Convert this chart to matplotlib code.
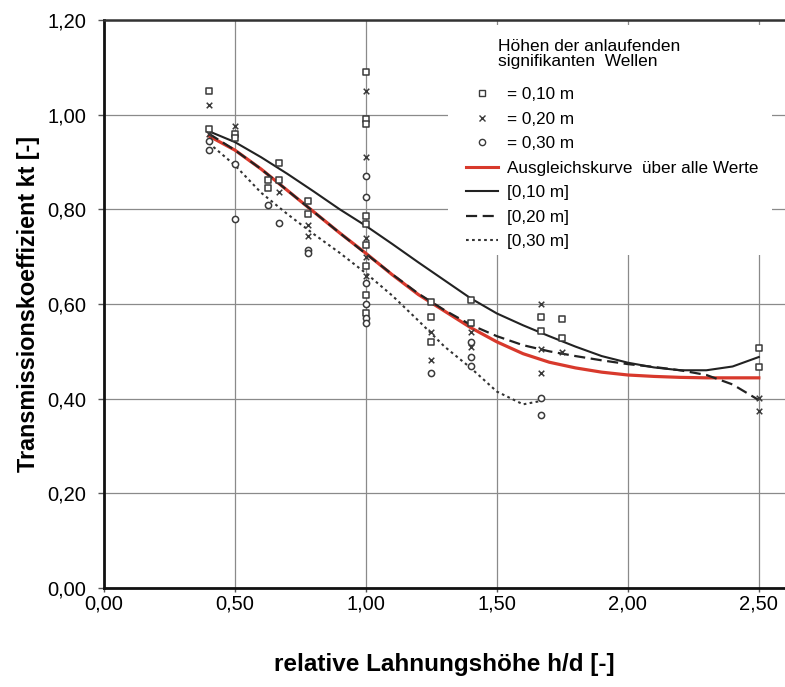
import matplotlib
matplotlib.use("Agg")
import matplotlib.pyplot as plt
from matplotlib.lines import Line2D
from matplotlib.patches import Rectangle

plt.rcParams['font.family'] = ['Liberation Sans', 'DejaVu Sans']

# measured points, wave height 0.10 m (squares)
x_10 = [0.4, 0.4, 0.5, 0.5, 0.625, 0.625, 0.667, 0.667, 0.78, 0.78,
        1.0, 1.0, 1.0, 1.0, 1.0, 1.0, 1.0, 1.0, 1.0,
        1.25, 1.25, 1.25, 1.4, 1.4, 1.667, 1.667, 1.75, 1.75, 2.5, 2.5]
y_10 = [1.05, 0.97, 0.96, 0.95, 0.862, 0.845, 0.898, 0.862, 0.818, 0.79,
        1.09, 0.99, 0.98, 0.785, 0.77, 0.725, 0.68, 0.62, 0.58,
        0.604, 0.573, 0.52, 0.608, 0.56, 0.572, 0.543, 0.568, 0.528, 0.507, 0.467]
# wave height 0.20 m (crosses)
x_20 = [0.4, 0.4, 0.5, 0.667, 0.78, 0.78, 1.0, 1.0, 1.0, 1.0, 1.0,
        1.25, 1.25, 1.4, 1.4, 1.667, 1.667, 1.667, 1.75, 2.5, 2.5]
y_20 = [1.02, 0.96, 0.975, 0.837, 0.767, 0.744, 1.05, 0.91, 0.74, 0.70, 0.66,
        0.541, 0.482, 0.54, 0.51, 0.60, 0.505, 0.454, 0.499, 0.401, 0.374]
# wave height 0.30 m (circles)
x_30 = [0.4, 0.4, 0.5, 0.5, 0.625, 0.667, 0.78, 0.78,
        1.0, 1.0, 1.0, 1.0, 1.0, 1.0, 1.25, 1.4, 1.4, 1.4, 1.667, 1.667]
y_30 = [0.945, 0.925, 0.895, 0.78, 0.81, 0.771, 0.714, 0.708,
        0.87, 0.826, 0.644, 0.60, 0.57, 0.56, 0.454, 0.52, 0.488, 0.47, 0.401, 0.366]

# fitted curves
cx_all = [0.4, 0.5, 0.6, 0.7, 0.8, 0.9, 1.0, 1.1, 1.2, 1.3, 1.4, 1.5, 1.6, 1.7,
          1.8, 1.9, 2.0, 2.1, 2.2, 2.3, 2.4, 2.5]
cy_all = [0.955, 0.925, 0.885, 0.84, 0.795, 0.75, 0.707, 0.662, 0.62, 0.585, 0.55,
          0.52, 0.495, 0.477, 0.465, 0.456, 0.45, 0.447, 0.445, 0.444, 0.444, 0.444]
cy_10 = [0.965, 0.942, 0.91, 0.875, 0.838, 0.80, 0.765, 0.727, 0.688, 0.65, 0.612,
         0.58, 0.555, 0.532, 0.51, 0.49, 0.476, 0.466, 0.46, 0.46, 0.468, 0.488]
cy_20 = [0.96, 0.925, 0.885, 0.84, 0.795, 0.75, 0.706, 0.663, 0.622, 0.587, 0.556,
         0.532, 0.513, 0.50, 0.49, 0.481, 0.473, 0.467, 0.46, 0.45, 0.43, 0.397]
cx_30 = [0.4, 0.5, 0.6, 0.7, 0.8, 0.9, 1.0, 1.1, 1.2, 1.3, 1.4, 1.5, 1.6, 1.667]
cy_30 = [0.94, 0.893, 0.835, 0.79, 0.748, 0.708, 0.665, 0.618, 0.565, 0.51, 0.465,
         0.415, 0.388, 0.395]

xticks = [0.0, 0.5, 1.0, 1.5, 2.0, 2.5]
xticklabels = ['0,00', '0,50', '1,00', '1,50', '2,00', '2,50']
yticks = [0.0, 0.2, 0.4, 0.6, 0.8, 1.0, 1.2]
yticklabels = ['0,00', '0,20', '0,40', '0,60', '0,80', '1,00', '1,20']

legend_title = 'Höhen der anlaufenden\nsignifikanten  Wellen'
legend_labels = ['= 0,10 m', '= 0,20 m', '= 0,30 m', 'Ausgleichskurve  über alle Werte',
                 '[0,10 m]', '[0,20 m]', '[0,30 m]']

fig = plt.figure(figsize=(7.85, 6.87), dpi=100)
ax = fig.add_axes([0.1325, 0.1441, 0.8675, 0.8268])

mc = '#3a3a3a'
red = '#d8392c'
ax.plot(cx_all, cy_all, color=red, lw=2.3, zorder=3)
ax.plot(cx_all, cy_10, color='#222222', lw=1.5, ls='-', zorder=4)
ax.plot(cx_all, cy_20, color='#222222', lw=1.6, ls=(0, (5, 2.5)), zorder=4)
ax.plot(cx_30, cy_30, color='#333333', lw=1.5, ls=(0, (1.3, 1.6)), zorder=4)

ax.scatter(x_10, y_10, marker='s', s=20, facecolors='white', edgecolors=mc,
           linewidths=1.1, zorder=5)
ax.scatter(x_20, y_20, marker='x', s=16, color=mc, linewidths=1.1, zorder=5)
ax.scatter(x_30, y_30, marker='o', s=20, facecolors='white', edgecolors=mc,
           linewidths=1.1, zorder=5)

ax.set_xlim(0, 2.6)
ax.set_ylim(0, 1.2)
ax.set_xticks(xticks)
ax.set_xticklabels(xticklabels, fontsize=14.5)
ax.set_yticks(yticks)
ax.set_yticklabels(yticklabels, fontsize=14.5)
ax.grid(True, color='#8a8a8a', lw=0.9)
ax.set_axisbelow(True)
for s in ['left', 'bottom']:
    ax.spines[s].set_linewidth(2.0)
    ax.spines[s].set_color('#111111')
ax.spines['top'].set_linewidth(1.8)
ax.spines['top'].set_color('#333333')
ax.spines['right'].set_visible(False)
ax.tick_params(axis='y', length=4, width=1, color='#555555', pad=9)
ax.tick_params(axis='x', length=3, width=1, color='#555555', pad=2)

ax.set_xlabel('relative Lahnungshöhe h/d [-]', fontsize=17.5, fontweight='bold', labelpad=28)
ax.set_ylabel('Transmissionskoeffizient kt [-]', fontsize=16.8, fontweight='bold', labelpad=5)

# white legend background
ax.add_patch(Rectangle((0.505, 0.586), 0.476, 0.405, transform=ax.transAxes,
                       facecolor='white', edgecolor='none', zorder=1))
ax.text(0.5786, 0.940, legend_title, transform=ax.transAxes, fontsize=12.5,
        ha='left', va='center', linespacing=1.05, zorder=6)

handles = [
    Line2D([], [], ls='none', marker='s', ms=4.5, mfc='white', mec=mc, mew=1.0),
    Line2D([], [], ls='none', marker='x', ms=4, color=mc, mew=1.0),
    Line2D([], [], ls='none', marker='o', ms=4.5, mfc='white', mec=mc, mew=1.0),
    Line2D([], [], color=red, lw=2.2),
    Line2D([], [], color='#222222', lw=1.5),
    Line2D([], [], color='#222222', lw=1.6, ls=(0, (5, 2.5))),
    Line2D([], [], color='#333333', lw=1.5, ls=(0, (1.3, 1.6))),
]
leg = ax.legend(handles, legend_labels, loc='upper left',
                bbox_to_anchor=(0.5316, 0.882), frameon=False,
                fontsize=12.3, handlelength=1.87, handletextpad=0.5,
                labelspacing=0.56, borderpad=0.0, borderaxespad=0.0)
leg.set_zorder(6)

fig.savefig('out.png', dpi=100, facecolor='white')
